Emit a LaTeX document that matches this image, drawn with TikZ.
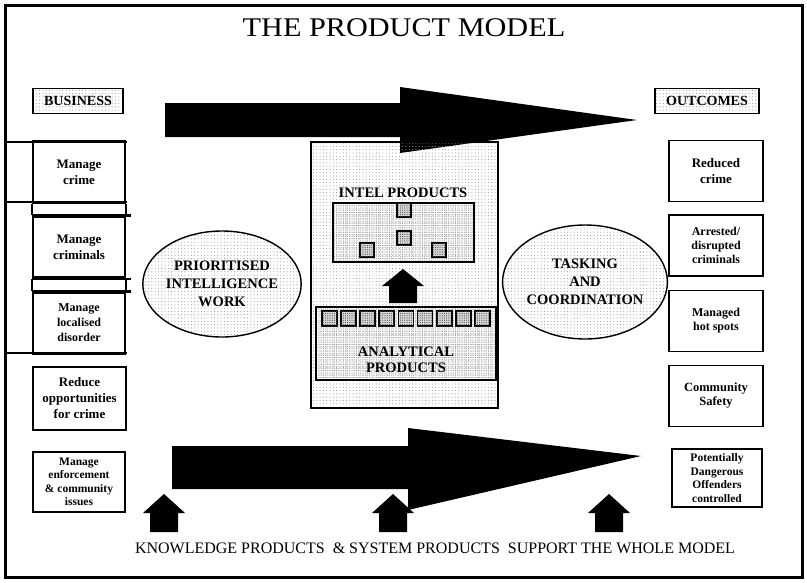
\documentclass[tikz,border=0pt]{standalone}
\usepackage{fontspec}
\setmainfont{Liberation Serif}
\usetikzlibrary{patterns,shapes.geometric}

% light dot screen used for the ellipses, the panel and the header tags
\pgfdeclarepatternformonly{lightdots}{\pgfqpoint{-1pt}{-1pt}}{\pgfqpoint{1pt}{1pt}}{\pgfqpoint{3.3pt}{3.3pt}}%
  {\pgfpathcircle{\pgfpointorigin}{0.55pt}\pgfusepath{fill}}
% denser screen for the product trays and the small product squares
\pgfdeclarepatternformonly{densedots}{\pgfqpoint{-1pt}{-1pt}}{\pgfqpoint{1pt}{1pt}}{\pgfqpoint{2.2pt}{2.2pt}}%
  {\pgfpathcircle{\pgfpointorigin}{0.6pt}\pgfusepath{fill}}

\tikzset{
  every node/.style={inner sep=0pt},
  boxfont/.style={font=\fontsize{13}{16}\selectfont\bfseries, align=center},
  smallfont/.style={font=\fontsize{11.5}{13.5}\selectfont\bfseries, align=center},
  leftbox/.style={draw, line width=2.4pt, minimum width=92pt, minimum height=61pt},
  outbox/.style={draw, line width=1.5pt, minimum width=94pt, minimum height=61pt},
  tag/.style={draw, line width=1.8pt, pattern=lightdots, pattern color=gray!80,
    minimum height=25pt, font=\fontsize{14}{16}\selectfont\bfseries},
  bubble/.style={ellipse, draw, line width=1.4pt, pattern=lightdots, pattern color=gray!80,
    font=\fontsize{14.5}{18}\selectfont\bfseries, align=center},
  tray/.style={draw, line width=1.5pt, pattern=densedots, pattern color=gray!75},
  prod/.style={draw, line width=1.8pt, minimum size=14pt, fill=gray!30,
    postaction={pattern=densedots, pattern color=black!70}},
  colline/.style={line width=2.4pt},
  pics/houseup/.style 2 args={code={
    \fill (0,0) -- (21,#1) -- (14,#1) -- (14,#2) -- (-14,#2) -- (-14,#1) -- (-21,#1) -- cycle;}}
}

\begin{document}
\begin{tikzpicture}[x=1pt,y=-1pt]
\useasboundingbox (0,0) rectangle (807,582);
\fill[white] (0,0) rectangle (807,582);

% outer frame
\draw[line width=3pt] (5,5) rectangle (802,577);

% title
\node (title) at (404,28) {\scalebox{1.12}[1]{\fontsize{27}{29}\selectfont THE PRODUCT MODEL}};

% header tags
\node[tag, minimum width=90pt] (business) at (78,101) {BUSINESS};
\node[tag, minimum width=104pt] (outcomes) at (707,101) {OUTCOMES};

% main flow arrows
\fill (165,103) -- (400,103) -- (400,87) -- (637,120) -- (400,153) -- (400,137) -- (165,137) -- cycle;
\fill (172,446) -- (408,446) -- (408,428) -- (641,456) -- (408,510) -- (408,489) -- (172,489) -- cycle;

% business column
\node[leftbox, boxfont] (crime) at (79,172) {Manage\\crime};
\node[leftbox, boxfont] (criminals) at (79,247) {Manage\\criminals};
\node[leftbox, font=\fontsize{12}{15}\selectfont\bfseries, align=center] (disorder) at (79,323) {Manage\\localised\\disorder};
\draw[colline] (5,142) -- (127,142);
\draw[colline] (5,202) -- (127,202);
\draw[colline] (5,353) -- (127,353);
\draw[colline] (criminals.north west) -- ([xshift=5pt]criminals.north east);
\draw[colline] (criminals.south west) -- ([xshift=5pt]criminals.south east);
\draw[colline] (disorder.north west) -- ([xshift=5pt]disorder.north east);
\draw[colline] (crime.south west) -- (criminals.north west);
\draw[colline] (crime.south east) -- (criminals.north east);
\draw[colline] (criminals.south west) -- (disorder.north west);
\draw[colline] (criminals.south east) -- (disorder.north east);

\node[outbox, boxfont, minimum width=93pt, minimum height=63pt] (opps) at (79.5,398.5) {Reduce\\opportunities\\for crime};
\node[outbox, smallfont, minimum width=92pt, minimum height=60pt] (enforce) at (79,482) {Manage\\enforcement\\\& community\\issues};

% outcomes column
\node[outbox, boxfont] (reduced) at (716,171) {Reduced\\crime};
\node[outbox, font=\fontsize{12}{14}\selectfont\bfseries, align=center] (arrested) at (716,245.5) {Arrested/\\disrupted\\criminals};
\node[outbox, font=\fontsize{12}{14}\selectfont\bfseries, align=center] (hotspots) at (716,321) {Managed\\hot spots};
\node[outbox, font=\fontsize{12.5}{14}\selectfont\bfseries, align=center] (safety) at (716,396) {Community\\Safety};
\node[outbox, smallfont, minimum width=90pt, minimum height=58pt] (pdo) at (717,478) {Potentially\\Dangerous\\Offenders\\controlled};

% process ellipses
\node[bubble, minimum width=154pt, minimum height=106pt] (piw) at (222,284) {PRIORITISED\\INTELLIGENCE\\WORK};
\node[bubble, minimum width=156pt, minimum height=114pt] (tac) at (585,282) {TASKING\\AND\\COORDINATION};

% central product panel
\node[draw, line width=1.6pt, pattern=lightdots, pattern color=gray!80,
      minimum width=187pt, minimum height=266pt] (panel) at (404.5,275) {};
\node[font=\fontsize{14.5}{16}\selectfont\bfseries] (intellabel) at (403,193) {INTEL PRODUCTS};
\node[tray, minimum width=141pt, minimum height=59pt] (intel) at (403.5,232.5) {};
\node[prod] (i1) at (404,210) {};
\node[prod] (i2) at (404,238) {};
\node[prod] (i3) at (367,250) {};
\node[prod] (i4) at (439,250) {};

\pic at (403,269) {houseup={17}{34}};

\node[tray, minimum width=180pt, minimum height=73pt] (analytic) at (406,343.5) {};
\foreach \k in {0,...,8}
  \node[prod, minimum size=15pt] (a\k) at ({329.5+\k*19.1},318.5) {};
\node[font=\fontsize{14.5}{16}\selectfont\bfseries, align=center] (analabel) at (406,360) {ANALYTICAL\\PRODUCTS};

% supporting products
\pic at (164,494) {houseup={19}{38}};
\pic at (393,494) {houseup={19}{38}};
\pic at (609,494) {houseup={19}{38}};
\node (support) at (435,548) {\fontsize{16}{18}\selectfont KNOWLEDGE PRODUCTS\ \ \& SYSTEM PRODUCTS\ \ SUPPORT THE WHOLE MODEL};
\end{tikzpicture}
\end{document}
